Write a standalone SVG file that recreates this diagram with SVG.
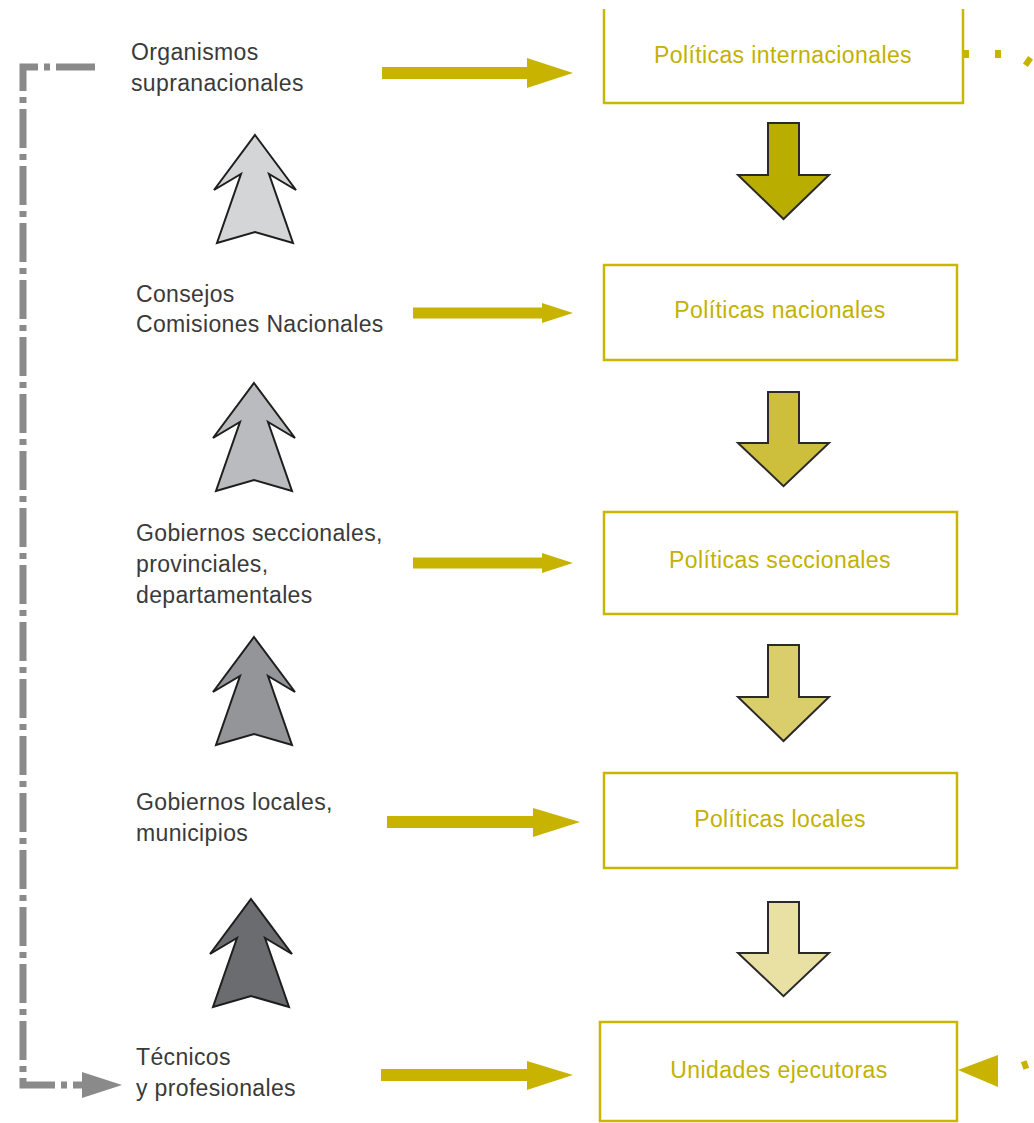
<svg xmlns="http://www.w3.org/2000/svg" width="1034" height="1123" viewBox="0 0 1034 1123">
<style>
.lbl{font-family:"Liberation Sans",Arial,sans-serif;font-size:23px;fill:#3a3a3a;letter-spacing:0.35px}
.pol{font-family:"Liberation Sans",Arial,sans-serif;font-size:23px;fill:#c2b100;text-anchor:middle;letter-spacing:0.4px}
.box{fill:#fff;stroke:#c8b600;stroke-width:2.5}
.down{stroke:#2a2a2a;stroke-width:2;stroke-linejoin:miter}
.up{stroke:#1e1e1e;stroke-width:2;stroke-linejoin:miter}
.harr{fill:#c8b400}
.gray{fill:none;stroke:#8a8a8a;stroke-width:7;stroke-dasharray:39 6 6 6}
</style>
<defs>
<path id="downArrow" d="M-15.5,0 H15.5 V52 H45.5 L0,96 L-45.5,52 H-15.5 Z"/>
<path id="upArrow" d="M0,0 L41,55 L14,39 L38,108 L0,97 L-38,108 L-14,39 L-41,55 Z"/>
</defs>
<rect width="1034" height="1123" fill="#fff"/>

<g id="connectors">
  <path class="gray" d="M95,67 H23 V1085 H84"/>
  <polygon points="82,1072 122,1085 82,1098" fill="#8a8a8a"/>
  <polygon class="harr" points="382,67 527,67 527,58 573,73 527,88 527,79 382,79"/>
  <polygon class="harr" points="413,307.5 542,307.5 542,303 573,313 542,323 542,318.5 413,318.5"/>
  <polygon class="harr" points="413,557.5 542,557.5 542,553 573,563 542,573 542,568.5 413,568.5"/>
  <polygon class="harr" points="387,816 533,816 533,808 580,822 533,837 533,828 387,828"/>
  <polygon class="harr" points="381,1069 527,1069 527,1061 573,1075 527,1090 527,1081 381,1081"/>
  <use href="#downArrow" class="down" fill="#b9ad00" transform="translate(783.5,123)"/>
  <use href="#downArrow" class="down" fill="#cdbf3c" transform="translate(783.5,392) scale(1,0.98)"/>
  <use href="#downArrow" class="down" fill="#d9cd6c" transform="translate(783.5,645)"/>
  <use href="#downArrow" class="down" fill="#e9e1a4" transform="translate(783.5,902) scale(1,0.98)"/>
  <use href="#upArrow" class="up" fill="#d3d5d7" transform="translate(255,135)"/>
  <use href="#upArrow" class="up" fill="#b9bbbe" transform="translate(254,383)"/>
  <use href="#upArrow" class="up" fill="#939598" transform="translate(254,637)"/>
  <use href="#upArrow" class="up" fill="#6b6c6f" transform="translate(251,899)"/>
  <rect x="963" y="50" width="6" height="8" fill="#c8b400"/>
  <rect x="995" y="50" width="6" height="8" fill="#c8b400"/>
  <rect x="1025" y="57" width="6" height="9" fill="#c8b400" transform="rotate(35 1028 61.5)"/>
  <polygon points="958,1070 998,1055 998,1087" fill="#c8b400"/>
  <rect x="1022" y="1061" width="6" height="8" fill="#c8b400" transform="rotate(-20 1025 1065)"/>
</g>

<g id="node-organismos"><text class="lbl" x="131" y="60">Organismos</text><text class="lbl" x="131" y="91">supranacionales</text></g>
<g id="node-consejos"><text class="lbl" x="136" y="302">Consejos</text><text class="lbl" x="136" y="332">Comisiones Nacionales</text></g>
<g id="node-gobiernos-seccionales"><text class="lbl" x="136" y="541">Gobiernos seccionales,</text><text class="lbl" x="136" y="572">provinciales,</text><text class="lbl" x="136" y="603">departamentales</text></g>
<g id="node-gobiernos-locales"><text class="lbl" x="136" y="810">Gobiernos locales,</text><text class="lbl" x="136" y="841">municipios</text></g>
<g id="node-tecnicos"><text class="lbl" x="136" y="1065">Técnicos</text><text class="lbl" x="136" y="1096">y profesionales</text></g>

<g id="node-pol-internacionales"><path class="box" d="M604,9 V103 H963 V9"/><text class="pol" x="783" y="63">Políticas internacionales</text></g>
<g id="node-pol-nacionales"><rect class="box" x="604" y="265" width="353" height="95"/><text class="pol" x="780" y="318">Políticas nacionales</text></g>
<g id="node-pol-seccionales"><rect class="box" x="604" y="512" width="353" height="102"/><text class="pol" x="780" y="568">Políticas seccionales</text></g>
<g id="node-pol-locales"><rect class="box" x="604" y="773" width="353" height="95"/><text class="pol" x="780" y="827">Políticas locales</text></g>
<g id="node-unidades"><rect class="box" x="600" y="1022" width="357" height="99"/><text class="pol" x="779" y="1078">Unidades ejecutoras</text></g>
</svg>
